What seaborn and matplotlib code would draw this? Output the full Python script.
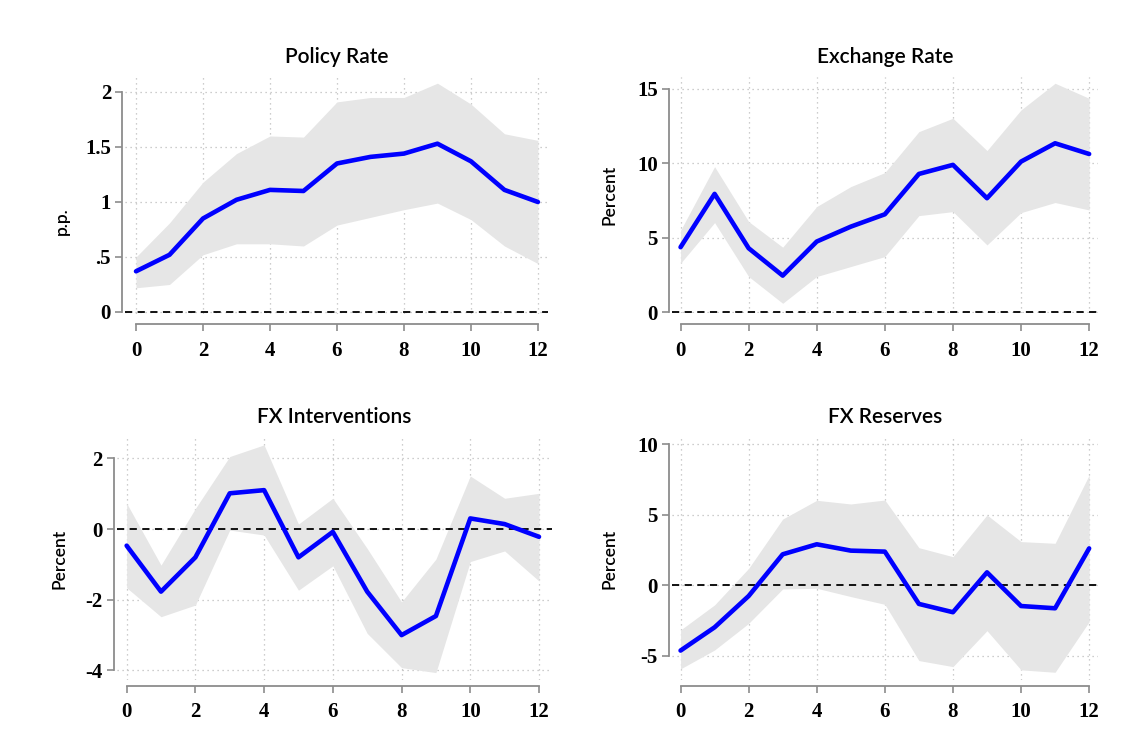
import numpy as np
import pandas as pd
import matplotlib
matplotlib.use("Agg")
import matplotlib.pyplot as plt
import seaborn as sns

horizon = list(range(13))

policy_irf = [0.37, 0.52, 0.85, 1.02, 1.11, 1.10, 1.35, 1.41, 1.44, 1.53, 1.37, 1.11, 1.00]
policy_lo = [0.22, 0.25, 0.52, 0.62, 0.62, 0.60, 0.79, 0.86, 0.93, 0.99, 0.84, 0.60, 0.44]
policy_hi = [0.50, 0.81, 1.18, 1.44, 1.60, 1.59, 1.91, 1.95, 1.95, 2.08, 1.89, 1.62, 1.56]

fx_rate_irf = [4.37, 7.95, 4.30, 2.46, 4.75, 5.75, 6.58, 9.29, 9.90, 7.66, 10.12, 11.35, 10.63]
fx_rate_lo = [3.29, 6.02, 2.40, 0.60, 2.40, 3.07, 3.74, 6.49, 6.76, 4.52, 6.69, 7.37, 6.87]
fx_rate_hi = [5.50, 9.78, 6.09, 4.37, 7.10, 8.44, 9.38, 12.13, 13.03, 10.86, 13.59, 15.38, 14.37]

fxi_irf = [-0.47, -1.77, -0.80, 1.01, 1.10, -0.80, -0.08, -1.77, -3.00, -2.46, 0.30, 0.14, -0.22]
fxi_lo = [-1.66, -2.48, -2.15, -0.03, -0.17, -1.73, -1.04, -2.95, -3.92, -4.06, -0.92, -0.62, -1.47]
fxi_hi = [0.73, -1.02, 0.58, 2.05, 2.38, 0.14, 0.87, -0.55, -2.06, -0.85, 1.50, 0.87, 1.01]

res_irf = [-4.63, -2.98, -0.76, 2.20, 2.91, 2.46, 2.39, -1.32, -1.91, 0.92, -1.47, -1.63, 2.62]
res_lo = [-5.93, -4.59, -2.70, -0.26, -0.21, -0.80, -1.35, -5.34, -5.77, -3.22, -6.00, -6.17, -2.58]
res_hi = [-3.17, -1.39, 1.20, 4.70, 6.03, 5.77, 6.05, 2.67, 2.03, 4.99, 3.10, 2.98, 7.82]

titles = ["Policy Rate", "Exchange Rate", "FX Interventions", "FX Reserves"]
ylabels = ["p.p.", "Percent", "Percent", "Percent"]
ytick_vals = [[0, 0.5, 1, 1.5, 2], [0, 5, 10, 15], [-4, -2, 0, 2], [-5, 0, 5, 10]]
ytick_text = [["0", ".5", "1", "1.5", "2"], ["0", "5", "10", "15"],
              ["-4", "-2", "0", "2"], ["-5", "0", "5", "10"]]
xtick_vals = [0, 2, 4, 6, 8, 10, 12]

series = [(policy_irf, policy_lo, policy_hi),
          (fx_rate_irf, fx_rate_lo, fx_rate_hi),
          (fxi_irf, fxi_lo, fxi_hi),
          (res_irf, res_lo, res_hi)]

# layout (figure fractions) and limits per panel
rects = [[0.1101, 0.5844, 0.3727, 0.3143],
         [0.5918, 0.5856, 0.3756, 0.3131],
         [0.1028, 0.1005, 0.3833, 0.3218],
         [0.5918, 0.1005, 0.3756, 0.3218]]
xlims = [(-0.33, 12.3), (-0.26, 12.26), (-0.29, 12.37), (-0.26, 12.26)]
ylims = [(-0.02, 2.14), (-0.07, 15.83), (-4.27, 2.61), (-6.72, 10.54)]
xoffsets = [7.2, 7.6, 4.1, 4.1]
label_pos = [(-0.15, 0.39), (-0.145, 0.5), (-0.132, 0.5), (-0.145, 0.5)]

sns.set_style("white")
plt.rcParams['font.family'] = ['Lato', 'DejaVu Sans']
plt.rcParams['axes.unicode_minus'] = False
plt.rcParams['text.color'] = 'black'

fig = plt.figure(figsize=(11.35, 7.56), dpi=100)
spine_col = "#8c8c8c"

for i in range(4):
    irf, lo, hi = series[i]
    ax = fig.add_axes(rects[i])
    ax.set_axisbelow(True)
    ax.fill_between(horizon, lo, hi, color="#e6e6e6", lw=0, zorder=1)
    ax.axhline(0, color="black", ls=(0, (4, 3)), lw=1.3, zorder=2)
    sns.lineplot(x=horizon, y=irf, ax=ax, color="#0000ff", lw=3.3, zorder=3)

    ax.set_xlim(xlims[i])
    ax.set_ylim(ylims[i])
    ax.set_xticks(xtick_vals)
    ax.set_yticks(ytick_vals[i])
    ax.set_yticklabels(ytick_text[i])
    ax.grid(True, ls=(0, (1, 3)), color="#bdbdbd", lw=0.9)

    for s in ["top", "right"]:
        ax.spines[s].set_visible(False)
    ax.spines["left"].set_position(("outward", 2))
    ax.spines["left"].set_bounds(ytick_vals[i][0], ytick_vals[i][-1])
    ax.spines["bottom"].set_position(("outward", xoffsets[i]))
    ax.spines["bottom"].set_bounds(0, 12)
    for s in ["left", "bottom"]:
        ax.spines[s].set_color(spine_col)
        ax.spines[s].set_linewidth(1.3)

    ax.tick_params(axis="both", direction="out", length=5, width=1.2,
                   color=spine_col, labelcolor="black", labelsize=15,
                   left=True, bottom=True)
    ax.tick_params(axis="x", pad=7)
    ax.tick_params(axis="y", pad=3)
    for lab in ax.get_xticklabels() + ax.get_yticklabels():
        lab.set_fontfamily(['Liberation Serif', 'DejaVu Serif'])
        lab.set_fontweight("bold")

    ax.set_title(titles[i], fontsize=15, pad=10, fontweight="semibold", color="black")
    ax.set_ylabel("")
    ax.text(label_pos[i][0], label_pos[i][1], ylabels[i], transform=ax.transAxes,
            rotation=90, ha="center", va="center", fontsize=12.5, fontweight="semibold")

fig.savefig("out.png", dpi=100)
